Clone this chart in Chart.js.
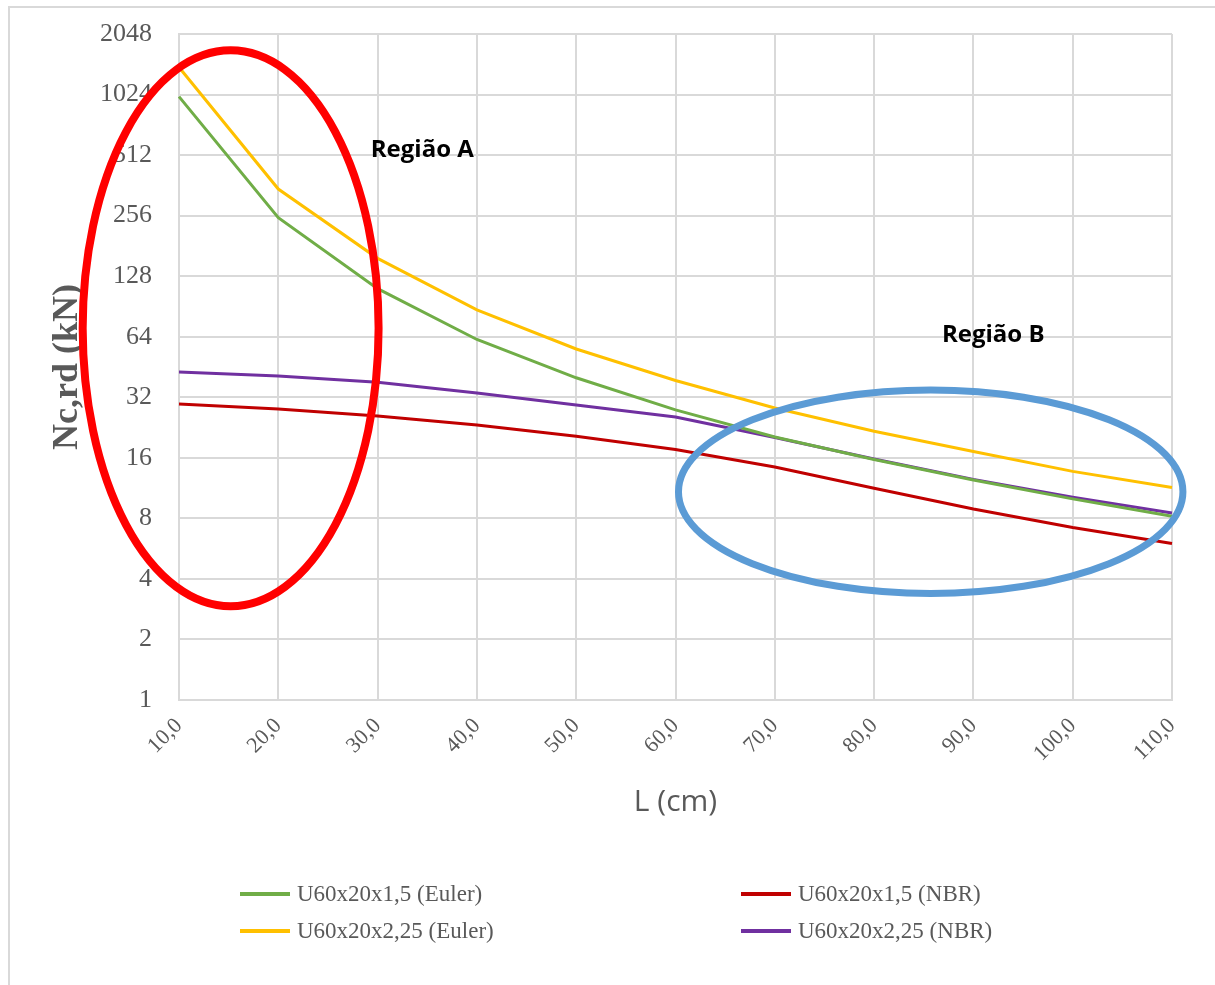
<!DOCTYPE html>
<html>
<head>
<meta charset="utf-8">
<script src="https://cdn.jsdelivr.net/npm/chart.js@4.4.1/dist/chart.umd.min.js"></script>
<style>
  body { margin: 0; background: #fff; }
  #wrap { position: relative; width: 1215px; height: 985px; overflow: hidden; }
  #frame { position: absolute; left: 8px; top: 6px; width: 1220px; height: 990px;
           border-left: 2px solid #d9d9d9; border-top: 2px solid #d9d9d9; }
  canvas { position: absolute; left: 0; top: 0; }
  #legend { position: absolute; left: 240px; top: 880px; display: grid;
            grid-template-columns: 501px auto; row-gap: 9px;
            font-family: "Liberation Serif", serif; font-size: 23px; color: #595959; }
  #legend .item { display: flex; align-items: center; height: 28px; }
  #legend .swatch { width: 50px; height: 4px; margin-right: 7px; }
</style>
</head>
<body>
<div id="wrap">
  <div id="frame"></div>
  <canvas id="chart" width="1215" height="985"></canvas>
  <div id="legend"></div>
</div>
<script>
const lengths = ['10,0', '20,0', '30,0', '40,0', '50,0', '60,0', '70,0', '80,0', '90,0', '100,0', '110,0'];
const euler15  = [1000, 250, 111, 62, 40, 27.7, 20.3, 15.7, 12.4, 10.0, 8.2];
const nbr15    = [29.6, 28.0, 25.8, 23.3, 20.5, 17.6, 14.4, 11.3, 8.9, 7.2, 6.0];
const euler225 = [1400, 347, 157, 87, 55.6, 38.8, 28.3, 21.7, 17.2, 13.7, 11.4];
const nbr225   = [42.7, 40.8, 38.0, 33.6, 29.3, 25.5, 20.2, 15.8, 12.5, 10.2, 8.5];
const yTicks = [1, 2, 4, 8, 16, 32, 64, 128, 256, 512, 1024, 2048];

const seriesNames = ['U60x20x1,5 (Euler)', 'U60x20x1,5 (NBR)', 'U60x20x2,25 (Euler)', 'U60x20x2,25 (NBR)'];
const seriesColors = ['#70AD47', '#C00000', '#FFC000', '#7030A0'];
const seriesData = [euler15, nbr15, euler225, nbr225];

// marked regions (centre in category index / value, radius in categories / doublings)
const regions = [
  { text: 'Região A', ci: 0.52, cv: 70.5, rx: 1.49, ry: 4.59, color: '#FF0000', width: 8, ti: 2.45, tv: 542 },
  { text: 'Região B', ci: 7.57, cv: 10.85, rx: 2.54, ry: 1.68, color: '#5B9BD5', width: 7, ti: 8.2, tv: 65.3 }
];

const gridColor = '#d9d9d9';
const textColor = '#595959';

const regionPlugin = {
  id: 'regions',
  afterDatasetsDraw(chart) {
    const ctx = chart.ctx;
    const xs = chart.scales.x, ys = chart.scales.y;
    regions.forEach(r => {
      const cx = xs.getPixelForValue(r.ci);
      const cy = ys.getPixelForValue(r.cv);
      const rx = xs.getPixelForValue(r.ci + r.rx) - cx;
      const ry = cy - ys.getPixelForValue(r.cv * Math.pow(2, r.ry));
      ctx.save();
      ctx.beginPath();
      ctx.ellipse(cx, cy, rx, ry, 0, 0, Math.PI * 2);
      ctx.strokeStyle = r.color;
      ctx.lineWidth = r.width;
      ctx.stroke();
      ctx.fillStyle = '#000';
      ctx.font = 'bold 24px "Open Sans", sans-serif';
      ctx.textAlign = 'center';
      ctx.textBaseline = 'middle';
      ctx.fillText(r.text, xs.getPixelForValue(r.ti), ys.getPixelForValue(r.tv));
      ctx.restore();
    });
  }
};

const chart = new Chart(document.getElementById('chart').getContext('2d'), {
  type: 'line',
  data: {
    labels: lengths,
    datasets: seriesData.map((d, i) => ({
      label: seriesNames[i],
      data: d,
      borderColor: seriesColors[i],
      backgroundColor: seriesColors[i],
      borderWidth: 3,
      pointRadius: 0,
      tension: 0
    }))
  },
  options: {
    responsive: false,
    animation: false,
    layout: { padding: { top: 34, right: 43, bottom: 161, left: 0 } },
    plugins: { legend: { display: false }, tooltip: { enabled: false } },
    scales: {
      x: {
        grid: { color: gridColor, lineWidth: 2, drawTicks: false },
        border: { color: gridColor, width: 2 },
        ticks: { color: textColor, font: { family: 'Liberation Serif', size: 22 },
                 maxRotation: 45, minRotation: 45, padding: 13, autoSkip: false },
        title: { display: true, text: 'L (cm)', color: textColor,
                 font: { family: 'Open Sans', size: 30 }, padding: { top: 0, bottom: 4 } },
        afterFit(scale) { scale.height = 124; scale.paddingLeft = 0; scale.paddingRight = 0; }
      },
      y: {
        type: 'logarithmic',
        min: 1,
        max: 2048,
        grid: { color: gridColor, lineWidth: 2, drawTicks: false },
        border: { color: gridColor, width: 2 },
        afterBuildTicks(scale) { scale.ticks = yTicks.map(v => ({ value: v })); },
        ticks: { color: textColor, font: { family: 'Liberation Serif', size: 26 }, padding: 27,
                 callback: v => String(v) },
        title: { display: true, text: 'Nc,rd (kN)', color: textColor,
                 font: { family: 'Liberation Serif', size: 36, weight: 'bold' }, padding: { top: 46, bottom: 0 } },
        afterFit(scale) { scale.width = 179; scale.paddingTop = 0; scale.paddingBottom = 0; }
      }
    }
  },
  plugins: [regionPlugin]
});

// legend in two columns, built from the datasets
document.getElementById('legend').innerHTML = chart.data.datasets.map(ds => `
  <div class="item"><span class="swatch" style="background:${ds.borderColor}"></span>${ds.label}</div>
`).join('');
</script>
</body>
</html>
